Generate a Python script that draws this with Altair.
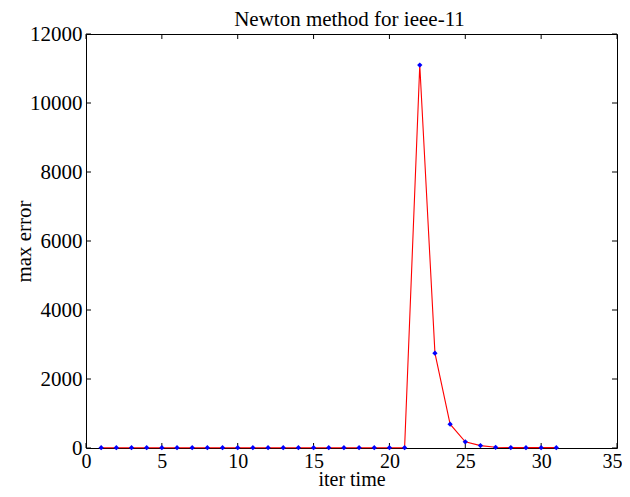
import altair as alt
import pandas as pd

iters = list(range(1, 32))
errors = [8, 8, 8, 8, 8, 8, 8, 8, 8, 8,
          8, 8, 8, 8, 8, 8, 8, 8, 8, 8,
          8, 11100, 2750, 690, 180, 70, 20, 12, 10, 10, 10]
x_ticks = [0, 5, 10, 15, 20, 25, 30, 35]
y_ticks = [0, 2000, 4000, 6000, 8000, 10000, 12000]
title_text = ["Newton method for ieee-11"]

W, H = 531, 414
FONT = "Liberation Serif"
FS = 21
FSX = 20

df = pd.DataFrame({"iter": iters, "err": errors})
dx = pd.DataFrame({"t": x_ticks})
dy = pd.DataFrame({"t": y_ticks})
dt = pd.DataFrame({"title": title_text})

xs = alt.Scale(domain=[0, 35], nice=False)
ys = alt.Scale(domain=[0, 12000], nice=False)

xaxis = alt.Axis(values=x_ticks, ticks=False, domain=False, grid=False,
                 labelFlush=True, labelFlushOffset=5, format="d",
                 labelFont=FONT, labelFontSize=FSX, labelColor="black",
                 labelPadding=3, title="iter time", titleFont=FONT,
                 titleFontSize=FSX, titleFontWeight="normal", titleColor="black",
                 titleBaseline="alphabetic", titleY=37, titleX=W / 2)
yaxis = alt.Axis(values=y_ticks, ticks=False, domain=False, grid=False,
                 labelFlush=False, format="d",
                 labelFont=FONT, labelFontSize=FS, labelColor="black",
                 labelPadding=4, title="max error", titleFont=FONT,
                 titleFontSize=FS, titleFontWeight="normal", titleColor="black",
                 titleBaseline="alphabetic", titleX=-56, titleY=H / 2,
                 titleAngle=270)

line = alt.Chart(df).mark_line(color="#ff0000", strokeWidth=1.1).encode(
    x=alt.X("iter:Q", scale=xs, axis=xaxis),
    y=alt.Y("err:Q", scale=ys, axis=yaxis),
)
pts = alt.Chart(df).mark_point(shape="diamond", filled=True, color="#0000ff",
                               size=28, opacity=1).encode(
    x=alt.X("iter:Q", scale=xs),
    y=alt.Y("err:Q", scale=ys),
)

tb = alt.Chart(dx).mark_rule(color="black", strokeWidth=1).encode(
    x=alt.X("t:Q", scale=xs), y=alt.value(H), y2=alt.value(H - 5))
tt = alt.Chart(dx).mark_rule(color="black", strokeWidth=1).encode(
    x=alt.X("t:Q", scale=xs), y=alt.value(0), y2=alt.value(5))
tl = alt.Chart(dy).mark_rule(color="black", strokeWidth=1).encode(
    y=alt.Y("t:Q", scale=ys), x=alt.value(0), x2=alt.value(5))
tr = alt.Chart(dy).mark_rule(color="black", strokeWidth=1).encode(
    y=alt.Y("t:Q", scale=ys), x=alt.value(W), x2=alt.value(W - 5))

ttl = alt.Chart(dt).mark_text(font=FONT, fontSize=FS, color="black",
                              align="center", baseline="alphabetic").encode(
    text="title:N", x=alt.value(W / 2 - 2), y=alt.value(-8))

chart = alt.layer(tb, tt, tl, tr, line, pts, ttl).properties(
    width=W, height=H,
    autosize=alt.AutoSizeParams(type="none"),
    padding={"left": 78, "top": 26, "right": 5, "bottom": 41},
    background="white",
).configure_view(stroke="black", strokeWidth=1)

chart.save("out.html", embed_options={"renderer": "svg", "actions": False})
